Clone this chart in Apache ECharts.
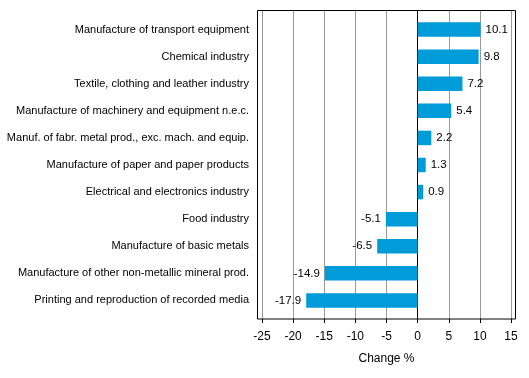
<!DOCTYPE html>
<html><head><meta charset="utf-8">
<script src="https://cdn.jsdelivr.net/npm/echarts@6/dist/echarts.min.js"></script>
<style>html,body{margin:0;padding:0;background:#fff}#c{width:529px;height:378px}</style>
</head><body><div id="c"></div>
<script>
var categories = [
  "Manufacture of transport equipment",
  "Chemical industry",
  "Textile, clothing and leather industry",
  "Manufacture of machinery and equipment n.e.c.",
  "Manuf. of fabr. metal prod., exc. mach. and equip.",
  "Manufacture of paper and paper products",
  "Electrical and electronics industry",
  "Food industry",
  "Manufacture of basic metals",
  "Manufacture of other non-metallic mineral prod.",
  "Printing and reproduction of recorded media"
];
var values = [10.1, 9.8, 7.2, 5.4, 2.2, 1.3, 0.9, -5.1, -6.5, -14.9, -17.9];
var axisMin = -25, axisMax = 15, axisStep = 5;
var axisTitle = "Change %";

var FONT = 'Arial, "Liberation Sans", sans-serif';
var chart = echarts.init(document.getElementById('c'), null, {renderer: 'canvas'});
var barData = values.map(function (v) {
  return {value: v, label: {position: v >= 0 ? 'right' : 'left'}};
});
chart.setOption({
  animation: false,
  grid: [
    {left: 262, right: 18, top: 10.5, bottom: 59},
    {left: 262, right: 18, top: 16, bottom: 64}
  ],
  xAxis: [
    {gridIndex: 0, type: 'value', min: axisMin, max: axisMax, interval: axisStep,
     axisLine: {show: false},
     axisTick: {show: true, length: 4, lineStyle: {color: '#000'}},
     axisLabel: {margin: 12, color: '#000', fontSize: 12, fontFamily: FONT},
     splitLine: {show: true, lineStyle: {color: '#999', width: 1}},
     name: axisTitle, nameLocation: 'middle', nameGap: 34,
     nameTextStyle: {color: '#000', fontSize: 12, fontFamily: FONT}},
    {gridIndex: 1, type: 'value', min: axisMin, max: axisMax, interval: axisStep, show: false}
  ],
  yAxis: [
    {gridIndex: 0, type: 'value', min: 0, max: 1,
     axisLine: {show: true, onZero: true, lineStyle: {color: '#000', width: 1}},
     axisTick: {show: false}, axisLabel: {show: false}, splitLine: {show: false}},
    {gridIndex: 1, type: 'category', data: categories, inverse: true,
     axisLine: {show: false}, axisTick: {show: false},
     axisLabel: {margin: 13, color: '#000', fontSize: 11, fontFamily: FONT},
     splitLine: {show: false}}
  ],
  graphic: [{
    type: 'rect', shape: {x: 257.5, y: 10.5, width: 258, height: 308.5},
    style: {fill: 'none', stroke: '#000', lineWidth: 1}, z: 100
  }],
  series: [{
    type: 'bar', xAxisIndex: 1, yAxisIndex: 1, data: barData,
    barWidth: 14.5,
    itemStyle: {color: '#009CDA'},
    label: {show: true, distance: 5, color: '#000', fontSize: 11.5, fontFamily: FONT,
      formatter: function (p) { return p.value.toFixed(1); }}
  }]
});
</script></body></html>
